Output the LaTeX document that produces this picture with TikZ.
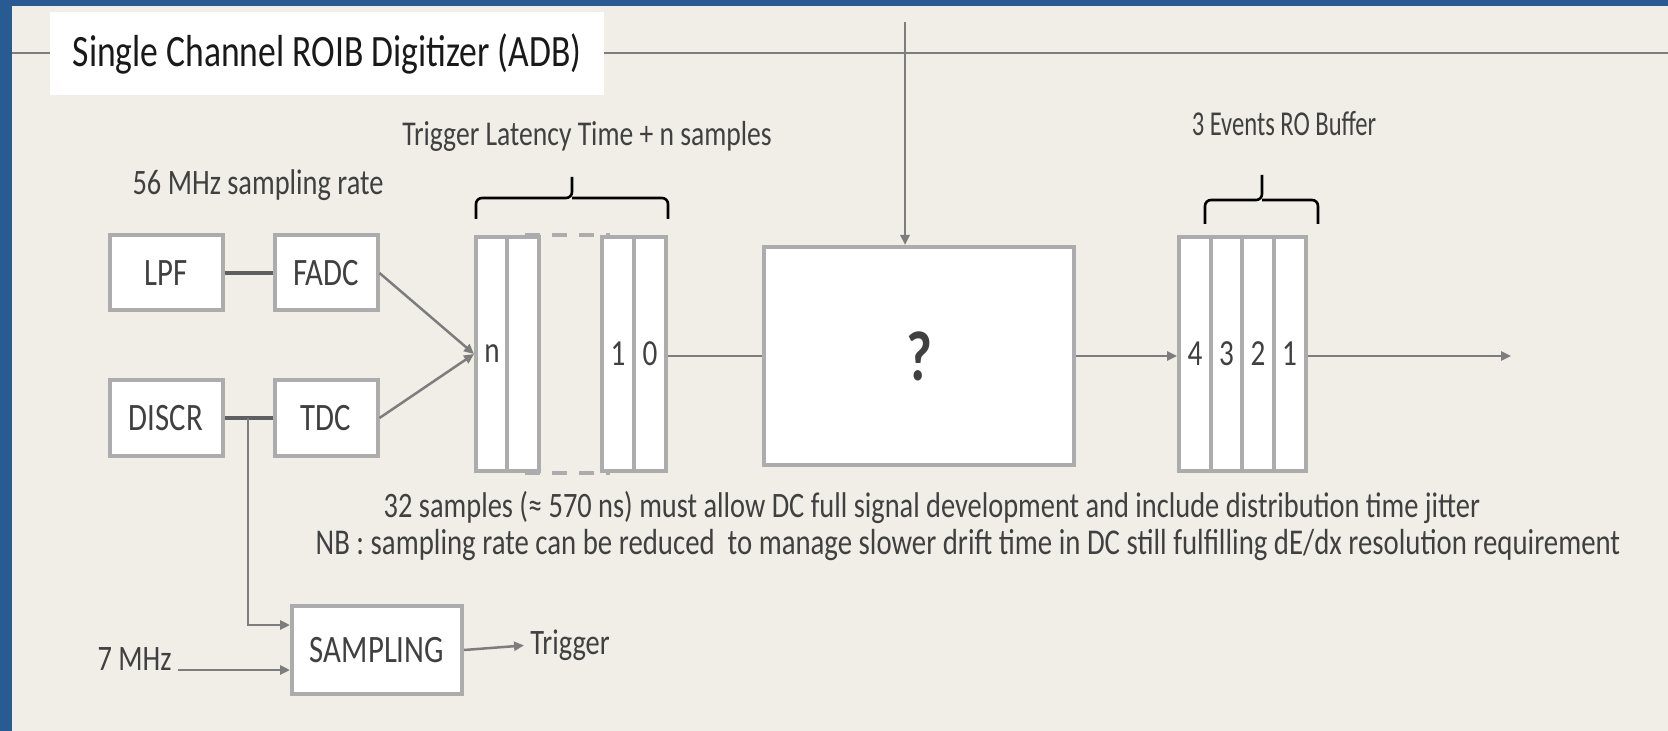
\documentclass[tikz,border=0pt]{standalone}
\usepackage{fontspec}
\setmainfont{Carlito}
\usepackage{graphicx}
\usetikzlibrary{arrows.meta}

\definecolor{slidebg}{RGB}{240,238,230}
\definecolor{slideblue}{RGB}{40,91,145}
\definecolor{boxline}{RGB}{172,172,172}
\definecolor{wiregray}{RGB}{125,125,125}
\definecolor{linkgray}{RGB}{95,95,95}
\definecolor{inktext}{RGB}{64,64,64}

% text in the slide is a bit taller than the font
\newcommand{\tall}[1]{\scalebox{1}[1.26]{#1}}

\tikzset{
  blk/.style={draw=boxline, line width=2pt, fill=white, text=inktext, inner sep=0pt,
              font=\fontsize{15.4}{18}\selectfont},
  cell/.style={blk, minimum width=16pt, minimum height=117pt, font=\fontsize{14.6}{17}\selectfont},
  lbl/.style={text=inktext, inner sep=0pt},
  wire/.style={draw=wiregray, line width=1.25pt},
  arr/.style={wire, -{Triangle[length=5pt,width=4.5pt]}},
  link/.style={draw=linkgray, line width=2pt},
  brace/.style={draw=black, line width=1.3pt, rounded corners=3pt},
}

\begin{document}
\begin{tikzpicture}[x=0.5pt, y=-0.5pt, font=\fontsize{14.2}{16}\selectfont]
  \fill[slideblue] (0,0) rectangle (1668,731);
  \fill[slidebg] (12,6) rectangle (1668,731);
  \useasboundingbox (0,0) rectangle (1668,731);

  % frame and title
  \draw[wiregray, line width=1.2pt] (12,53) -- (1668,53);
  \node[fill=white, minimum width=277pt, minimum height=41.5pt, inner sep=0pt,
        text={rgb,255:red,25;green,25;blue,25}] (title) at (327,54)
    {\fontsize{17.8}{20}\selectfont\tall{Single Channel ROIB Digitizer (ADB)}};

  % front end
  \node[blk, minimum width=56.5pt, minimum height=37.5pt] (lpf) at (166,273) {\tall{LPF}};
  \node[blk, minimum width=51.5pt, minimum height=37.5pt] (fadc) at (326,273) {\tall{FADC}};
  \node[blk, minimum width=56.5pt, minimum height=37.5pt] (discr) at (166,418) {\tall{DISCR}};
  \node[blk, minimum width=51.5pt, minimum height=37.5pt] (tdc) at (326,418) {\tall{TDC}};
  \node[blk, minimum width=85pt, minimum height=44pt] (sampling) at (377,650) {\tall{SAMPLING}};
  \node[lbl] (rate) at (258,185) {\tall{56 MHz sampling rate}};
  \node[lbl, anchor=base east] (clk) at (172,670) {\tall{7 MHz}};
  \node[lbl, anchor=west] (trig) at (530,645) {\tall{Trigger}};

  \draw[link] (lpf) -- (fadc);
  \draw[link] (discr) -- (tdc);
  \coordinate (tap) at (248,418);
  \draw[arr] (tap) |- ([yshift=12.5pt]sampling.west);
  \draw[arr, shorten <=3pt] (clk.base east) -- (clk.base east -| sampling.west);
  \draw[arr, shorten >=3pt] (sampling.east) -- (trig.west);

  % latency pipeline
  \node[cell] (reg-n) at (492,354) {\tall{n}};
  \node[cell] (reg-m) at (523,354) {};
  \node[cell] (reg-1) at (618,354) {\tall{1}};
  \node[cell] (reg-0) at (650,354) {\tall{0}};
  \draw[boxline, line width=2pt, dash pattern=on 7.5pt off 6pt]
    ([xshift=-8pt]reg-m.north east) -- ([xshift=5pt]reg-1.north west)
    ([xshift=-8pt]reg-m.south east) -- ([xshift=5pt]reg-1.south west);
  \draw[arr] (fadc.east) -- (reg-n.west);
  \draw[arr] (tdc.east) -- (reg-n.west);
  \node[lbl, font=\fontsize{13.8}{16}\selectfont] (latency) at (587,136) {\tall{Trigger Latency Time + n samples}};
  \draw[brace] (476,219) -- (476,198) -- (572,198) -- (572,177);
  \draw[brace] (668,219) -- (668,198) -- (572,198);

  % unknown stage
  \node[blk, minimum width=155pt, minimum height=109pt] (what) at (919,356)
    {\fontsize{28}{32}\selectfont\bfseries\tall{?}};
  \coordinate (topin) at (905,22);
  \draw[arr] (topin) -- (topin |- what.north);
  \draw[wire] (reg-0.east |- what.west) -- (what.west);

  % readout buffer
  \foreach \i/\lab in {0/4,1/3,2/2,3/1}
    \node[cell] (buf\lab) at ({1195+31.5*\i},354) {\tall{\lab}};
  \node[lbl, font=\fontsize{12.3}{14}\selectfont] (robuf) at (1284,124)
    {\scalebox{1}[1.42]{3 Events RO Buffer}};
  \draw[brace] (1205,224) -- (1205,200) -- (1262,200) -- (1262,175);
  \draw[brace] (1318,224) -- (1318,200) -- (1262,200);
  \draw[arr] (what.east) -- (buf4.west |- what.east);
  \coordinate (out) at (1511,356);
  \draw[arr] (buf1.east |- out) -- (out);

  % notes
  \node[lbl] (note1) at (932,507) {\tall{32 samples (≈ 570 ns) must allow DC full signal development and include distribution time jitter}};
  \node[lbl, font=\fontsize{14.4}{16}\selectfont] (note2) at (968,545) {\tall{NB : sampling rate can be reduced\ \ to manage slower drift time in DC still fulfilling dE/dx resolution requirement}};
\end{tikzpicture}
\end{document}
